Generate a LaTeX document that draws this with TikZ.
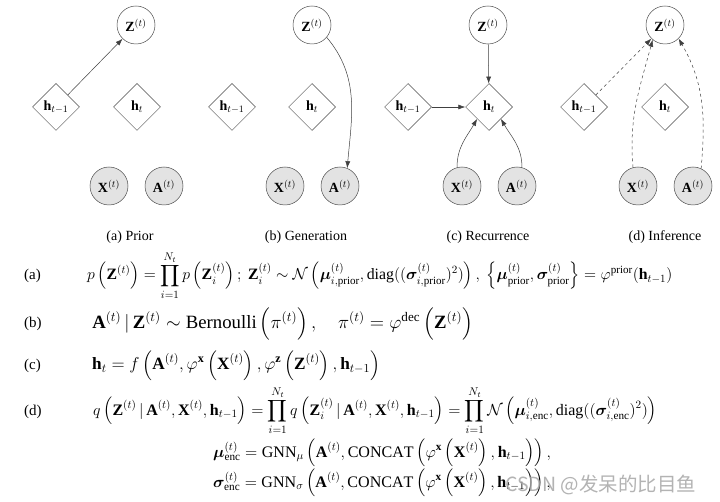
\RequirePackage{fix-cm}
\documentclass[tikz,border=0pt]{standalone}
\usepackage{amsmath}
\usepackage{bm}
\usepackage{fontspec}
\setmainfont{Liberation Serif}
\newfontfamily\cjkwm{Noto Sans CJK SC}
\usetikzlibrary{shapes.geometric,arrows.meta}
\tikzset{
  lat/.style={circle, draw=black!70, line width=0.5pt, minimum size=38pt, inner sep=0pt, font=\fontsize{14}{16}\selectfont},
  obs/.style={lat, fill=gray!22},
  det/.style={diamond, draw=black!70, line width=0.5pt, minimum size=47pt, inner sep=0pt, font=\fontsize{14}{16}\selectfont},
  arr/.style={draw=black!75, line width=0.5pt, -{Latex[length=7pt,width=5pt]}},
  darr/.style={arr, dashed},
  captxt/.style={font=\fontsize{14}{16}\selectfont},
  eqn/.style={anchor=base west, inner sep=0pt, font=\fontsize{15}{18}\selectfont},
  lab/.style={anchor=base west, inner sep=0pt, font=\fontsize{15}{18}\selectfont},
}
\begin{document}
\begin{tikzpicture}[x=1pt,y=1pt]
\useasboundingbox (0,0) rectangle (720,-502);
\fill[white] (0,0) rectangle (720,-502);
% ---------- panel (a)
\node[lat] (aZ) at (136,-25) {$\mathbf{Z}^{(t)}$};
\node[det] (ah1) at (56,-107) {$\mathbf{h}_{t-1}$};
\node[det] (aht) at (137,-107) {$\mathbf{h}_{t}$};
\node[obs] (aX) at (109,-186) {$\mathbf{X}^{(t)}$};
\node[obs] (aA) at (164,-186) {$\mathbf{A}^{(t)}$};
\node[captxt] (acap) at (130,-237) {(a) Prior};
\draw[arr] (ah1) -- (aZ);
% ---------- panel (b)
\node[lat] (bZ) at (312,-25) {$\mathbf{Z}^{(t)}$};
\node[det] (bh1) at (232,-107) {$\mathbf{h}_{t-1}$};
\node[det] (bht) at (312,-107) {$\mathbf{h}_{t}$};
\node[obs] (bX) at (285,-186) {$\mathbf{X}^{(t)}$};
\node[obs] (bA) at (340,-186) {$\mathbf{A}^{(t)}$};
\node[captxt] (bcap) at (306,-237) {(b) Generation};
\draw[arr] (bZ.-40) to[out=-50, in=85] (bA.68);
% ---------- panel (c)
\node[lat] (cZ) at (488,-25) {$\mathbf{Z}^{(t)}$};
\node[det] (ch1) at (408,-107) {$\mathbf{h}_{t-1}$};
\node[det] (cht) at (489,-107) {$\mathbf{h}_{t}$};
\node[obs] (cX) at (462,-186) {$\mathbf{X}^{(t)}$};
\node[obs] (cA) at (517,-186) {$\mathbf{A}^{(t)}$};
\node[captxt] (ccap) at (488,-237) {(c) Recurrence};
\draw[arr] (cZ) -- (cht);
\draw[arr] (ch1) -- (cht);
\draw[arr] (cX.105) to[out=90, in=-120] (cht.-135);
\draw[arr] (cA.75) to[out=90, in=-60] (cht.-45);
% ---------- panel (d)
\node[lat] (dZ) at (665,-25) {$\mathbf{Z}^{(t)}$};
\node[det] (dh1) at (584,-107) {$\mathbf{h}_{t-1}$};
\node[det] (dht) at (665,-107) {$\mathbf{h}_{t}$};
\node[obs] (dX) at (638,-186) {$\mathbf{X}^{(t)}$};
\node[obs] (dA) at (693,-186) {$\mathbf{A}^{(t)}$};
\node[captxt] (dcap) at (665,-237) {(d) Inference};
\draw[darr] (dh1) -- (dZ.-135);
\draw[darr] (dX.105) to[out=95, in=-105] (dZ.-130);
\draw[darr] (dA.65) to[out=85, in=-60] (dZ.-45);
% ---------- equations
\node[lab] (la) at (24,-280) {(a)};
\node[eqn, scale=1.054] (ea) at (87,-280) {$\displaystyle p\left(\mathbf{Z}^{(t)}\right)=\prod_{i=1}^{N_t} p\left(\mathbf{Z}_i^{(t)}\right);\ \mathbf{Z}_i^{(t)}\sim\mathcal{N}\left(\bm{\mu}_{i,\mathrm{prior}}^{(t)},\mathrm{diag}((\bm{\sigma}_{i,\mathrm{prior}}^{(t)})^2)\right),\ \left\{\bm{\mu}^{(t)}_{\mathrm{prior}},\bm{\sigma}^{(t)}_{\mathrm{prior}}\right\}=\varphi^{\mathrm{prior}}(\mathbf{h}_{t-1})$};
\node[lab] (lb) at (24,-328) {(b)};
\node[eqn, scale=1.25] (eb) at (92,-329) {$\displaystyle \mathbf{A}^{(t)}\,|\,\mathbf{Z}^{(t)}\sim\mathrm{Bernoulli}\left(\pi^{(t)}\right),\quad \pi^{(t)}=\varphi^{\mathrm{dec}}\left(\mathbf{Z}^{(t)}\right)$};
\node[lab] (lc) at (24,-370) {(c)};
\node[eqn, scale=1.15] (ec) at (92,-370) {$\displaystyle \mathbf{h}_t=f\left(\mathbf{A}^{(t)},\varphi^{\mathbf{x}}\left(\mathbf{X}^{(t)}\right),\varphi^{\mathbf{z}}\left(\mathbf{Z}^{(t)}\right),\mathbf{h}_{t-1}\right)$};
\node[lab] (ld) at (24,-415) {(d)};
\node[eqn, scale=1.066] (ed) at (93,-415) {$\displaystyle q\left(\mathbf{Z}^{(t)}\,|\,\mathbf{A}^{(t)},\mathbf{X}^{(t)},\mathbf{h}_{t-1}\right)=\prod_{i=1}^{N_t} q\left(\mathbf{Z}_i^{(t)}\,|\,\mathbf{A}^{(t)},\mathbf{X}^{(t)},\mathbf{h}_{t-1}\right)=\prod_{i=1}^{N_t}\mathcal{N}\left(\bm{\mu}_{i,\mathrm{enc}}^{(t)},\mathrm{diag}((\bm{\sigma}_{i,\mathrm{enc}}^{(t)})^2)\right)$};
\node[eqn, scale=1.07] (emu) at (213,-457) {$\displaystyle \bm{\mu}^{(t)}_{\mathrm{enc}}=\mathrm{GNN}_{\mu}\left(\mathbf{A}^{(t)},\mathrm{CONCAT}\left(\varphi^{\mathbf{x}}\left(\mathbf{X}^{(t)}\right),\mathbf{h}_{t-1}\right)\right),$};
\node[eqn, scale=1.07] (esig) at (213,-487) {$\displaystyle \bm{\sigma}^{(t)}_{\mathrm{enc}}=\mathrm{GNN}_{\sigma}\left(\mathbf{A}^{(t)},\mathrm{CONCAT}\left(\varphi^{\mathbf{x}}\left(\mathbf{X}^{(t)}\right),\mathbf{h}_{t-1}\right)\right),$};
% ---------- watermark
\node[anchor=west, inner sep=0pt, text=gray!70, opacity=0.85, font=\cjkwm\fontsize{19.5}{22}\selectfont] (wm) at (505,-485) {CSDN @发呆的比目鱼};
\end{tikzpicture}
\end{document}
